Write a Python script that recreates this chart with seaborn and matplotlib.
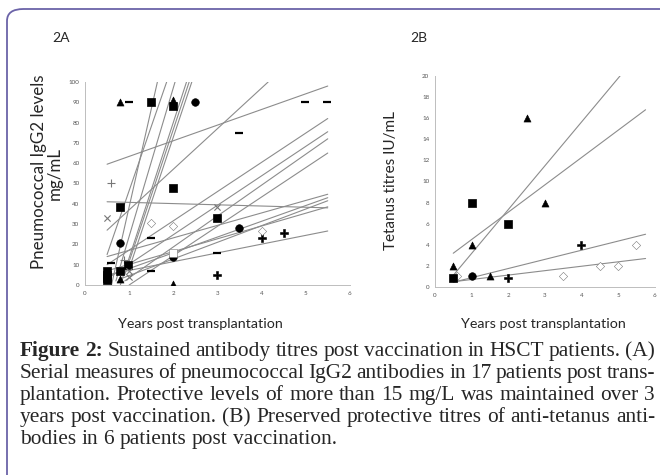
import numpy as np
import pandas as pd
import matplotlib
matplotlib.use("Agg")
import matplotlib.pyplot as plt
import seaborn as sns
from matplotlib.patches import FancyBboxPatch

# ---- panel A: pneumococcal IgG2 (points per marker kind) ----
a_pt_x = [0.79, 1.0, 1.49, 2.0, 2.0, 2.49, 4.98, 5.49, 3.5,
          0.59, 2.0, 0.79, 0.49, 1.49, 2.0, 0.79, 1.49, 0.59, 0.89,
          0.98, 0.79, 0.5, 0.5, 0.5, 0.5, 0.79, 1.0, 1.0, 2.0, 2.0, 2.0,
          3.0, 3.0, 3.49, 4.0, 4.0, 4.5, 3.0, 3.0, 1.5]
a_pt_y = [90, 90, 90, 91, 88, 90, 90, 90, 75,
          50, 48, 38.6, 33, 30.7, 29, 20.8, 23, 11, 12.3,
          9.9, 7, 7, 5, 3.5, 2.5, 3, 7, 4, 14, 16, 0.7,
          38.6, 33, 28, 26.8, 23, 25.8, 16, 5, 7]
a_pt_kind = ["tri", "dash", "sq", "tri", "sq", "circ", "dash", "dash", "dash",
             "plus", "sq", "sq", "star", "odia", "odia", "circ", "dash", "dash", "plus",
             "sq", "sq", "sq", "sq", "sq", "sq", "tri", "star", "star", "circ", "osq", "tri",
             "star", "sq", "circ", "odia", "fdia", "fdia", "dash", "fdia", "dash"]

# panel A trend lines (start / end of each fitted line)
a_line_x0 = [0.5, 0.5, 0.5, 0.5, 0.5, 0.9, 1.0, 0.5, 0.6, 0.8, 0.5, 0.5,
             0.6, 0.5, 0.7, 0.8, 0.9, 1.0]
a_line_y0 = [59.5, 41, 27, 10, 3, 2, 0, 14, 5, 3, 7, 5,
             0, 15, 2, 0, 5, 8]
a_line_x1 = [5.5, 5.5, 4.15, 5.5, 5.5, 5.5, 5.5, 5.5, 5.5, 5.5, 5.5, 5.5,
             1.64, 1.85, 2.04, 2.3, 2.36, 2.42]
a_line_y1 = [98, 38, 100, 82, 75.5, 72, 65, 44.7, 43, 41.5, 38.5, 26.6,
             100, 100, 100, 100, 100, 100]

# ---- panel B: tetanus titres ----
b_pt_x = [0.5, 0.5, 0.6, 1.0, 1.0, 1.0, 1.5, 2.0, 2.0, 2.5, 3.0, 3.5, 4.0, 4.5, 5.0, 5.5]
b_pt_y = [2, 0.9, 1, 4, 8, 1, 1, 0.9, 6, 16, 8, 1, 4, 2, 2, 4]
b_pt_kind = ["tri", "sq", "odia", "tri", "sq", "circ", "tri", "fdia", "sq", "tri",
             "tri", "odia", "fdia", "odia", "odia", "odia"]

b_line_x0 = [0.5, 0.5, 0.5, 0.5]
b_line_y0 = [1.1, 3.2, 0.45, 0.5]
b_line_x1 = [5.75, 5.75, 5.75, 5.75]
b_line_y1 = [22.9, 16.8, 5.0, 2.7]

x_ticks = [0, 1, 2, 3, 4, 5, 6]
a_y_ticks = list(range(0, 101, 10))
b_y_ticks = list(range(0, 21, 2))

caption = [
    [("Figure", "bold"), ("2:", "bold"), "Sustained", "antibody", "titres", "post", "vaccination",
     "in", "HSCT", "patients.", "(A)"],
    "Serial measures of pneumococcal IgG2 antibodies in 17 patients post trans-".split(),
    "plantation. Protective levels of more than 15 mg/L was maintained over 3".split(),
    "years post vaccination. (B) Preserved protective titres of anti-tetanus anti-".split(),
    "bodies in 6 patients post vaccination.".split(),
]

MARKERS = {
    "tri": dict(marker="^", s=26, color="black", edgecolor="black"),
    "sq": dict(marker="s", s=38, color="black", edgecolor="black"),
    "osq": dict(marker="s", s=26, color="white", edgecolor="#777777"),
    "circ": dict(marker="o", s=30, color="black", edgecolor="black"),
    "dash": dict(marker="_", s=40, color="black", linewidth=1.6),
    "plus": dict(marker="+", s=30, color="#777777", linewidth=0.8),
    "star": dict(marker="x", s=20, color="#777777", linewidth=0.8),
    "odia": dict(marker="D", s=18, color="white", edgecolor="#666666"),
    "fdia": dict(marker="P", s=26, color="black", edgecolor="black"),
}


def line_frame(x0, y0, x1, y1):
    rows = []
    for i in range(len(x0)):
        rows.append({"id": i, "x": x0[i], "y": y0[i]})
        rows.append({"id": i, "x": x1[i], "y": y1[i]})
    return pd.DataFrame(rows)


def draw_panel(ax, px, py, pk, lx0, ly0, lx1, ly1, yticks):
    lines = line_frame(lx0, ly0, lx1, ly1)
    sns.lineplot(data=lines, x="x", y="y", units="id", estimator=None,
                 color="#8c8c8c", linewidth=0.8, ax=ax, legend=False)
    pts = pd.DataFrame({"x": px, "y": py, "kind": pk})
    for kind, grp in pts.groupby("kind"):
        opts = dict(MARKERS[kind])
        sns.scatterplot(data=grp, x="x", y="y", ax=ax, legend=False, zorder=3, **opts)
    ax.set_xlim(0, 6)
    ax.set_ylim(0, yticks[-1])
    ax.set_xticks(x_ticks)
    ax.set_yticks(yticks)
    ax.set_xlabel("")
    ax.set_ylabel("")
    for side in ["top", "right"]:
        ax.spines[side].set_visible(False)
    for side in ["left", "bottom"]:
        ax.spines[side].set_color("#bdbdbd")
        ax.spines[side].set_linewidth(0.7)
    ax.tick_params(labelsize=4.5, colors="#bdbdbd", labelcolor="#555555",
                   length=2, width=0.6, pad=2)
    ax.set_facecolor("white")


sns.set_theme(style="white")
plt.rcParams['font.family'] = ['Lato', 'DejaVu Sans']

fig = plt.figure(figsize=(6.6, 4.75), dpi=100)
fig.patch.set_facecolor("white")

ax_a = fig.add_axes([0.1288, 0.40, 0.4012, 0.4274])
ax_b = fig.add_axes([0.659, 0.3958, 0.333, 0.4442])
draw_panel(ax_a, a_pt_x, a_pt_y, a_pt_kind, a_line_x0, a_line_y0, a_line_x1, a_line_y1, a_y_ticks)
draw_panel(ax_b, b_pt_x, b_pt_y, b_pt_kind, b_line_x0, b_line_y0, b_line_x1, b_line_y1, b_y_ticks)

# panel labels and axis titles
fig.text(52 / 660, 1 - 38 / 475, "2A", fontsize=10, ha="left", va="center")
fig.text(410 / 660, 1 - 38 / 475, "2B", fontsize=10, ha="left", va="center")
fig.text(39 / 660, 1 - 172 / 475, "Pneumococcal IgG2 levels", fontsize=12.2,
         rotation=90, ha="center", va="center")
fig.text(55 / 660, 1 - 173 / 475, "mg/mL", fontsize=12.2, rotation=90, ha="center", va="center")
fig.text(391 / 660, 1 - 180 / 475, "Tetanus titres IU/mL", fontsize=11,
         rotation=90, ha="center", va="center")
fig.text(200 / 660, 1 - 324 / 475, "Years post transplantation", fontsize=10.3,
         ha="center", va="center")
fig.text(543 / 660, 1 - 324 / 475, "Years post transplantation", fontsize=10.3,
         ha="center", va="center")

# justified caption; font size chosen so the first line fits the text block
fig.canvas.draw()
renderer = fig.canvas.get_renderer()
left_px, right_px = 20, 655
serif = ["Liberation Serif", "DejaVu Serif"]
probe = fig.text(0, 0, "Figure 2: Sustained antibody titres post vaccination in HSCT patients. (A)",
                 fontsize=10, family=serif)
cap_fs = 10 * (right_px - left_px) / probe.get_window_extent(renderer).width
probe.remove()

baselines = [356, 378, 400, 422, 444]
for li, words in enumerate(caption):
    items = []
    for w in words:
        txt, weight = (w if isinstance(w, tuple) else (w, "normal"))
        t = fig.text(0, 0, txt, fontsize=cap_fs, fontweight=weight,
                     family=serif, va="baseline", ha="left")
        width = t.get_window_extent(renderer).width
        items.append((t, width))
    total = sum(w for _, w in items)
    if li < len(caption) - 1:
        gap = (right_px - left_px - total) / (len(items) - 1)
    else:
        gap = cap_fs * 0.25 * 100 / 72
    x = left_px
    y = 1 - baselines[li] / 475
    for t, width in items:
        t.set_position((x / 660, y))
        x += width + gap

# frame around the figure (only top and left edges visible)
frame = FancyBboxPatch((7 / 660, -0.2), 1.2, (1 - 9 / 475) + 0.2,
                       boxstyle="round,pad=0,rounding_size=0.025",
                       transform=fig.transFigure, fill=False,
                       edgecolor="#6b63a8", linewidth=1.3, clip_on=False)
fig.patches.append(frame)

fig.savefig("out.png", dpi=100, facecolor="white")
